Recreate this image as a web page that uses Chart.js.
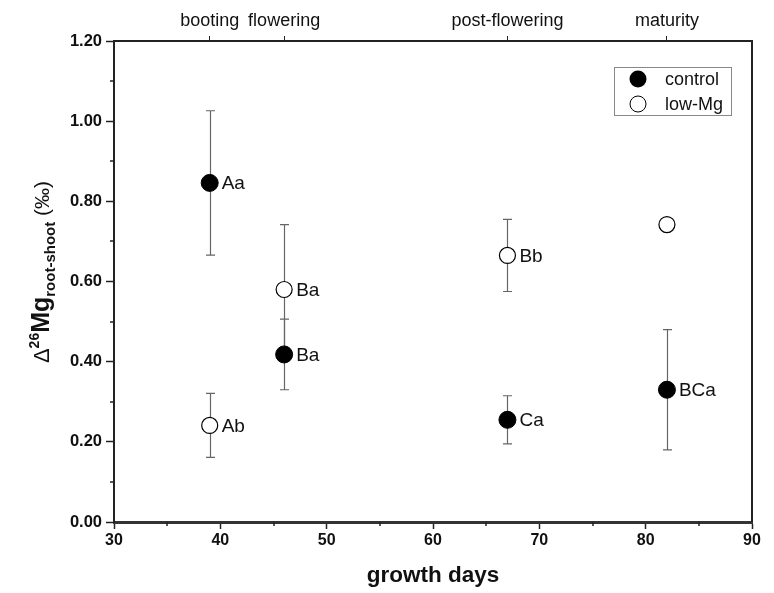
<!DOCTYPE html>
<html>
<head>
<meta charset="utf-8">
<script src="https://cdn.jsdelivr.net/npm/chart.js@4/dist/chart.umd.min.js"></script>
<style>
  body { margin: 0; background: #fff; }
</style>
</head>
<body>
<canvas id="chart" width="774" height="593"></canvas>
<script>
// growth days and stage names
const days = [39, 46, 67, 82]
const stages = ["booting", "flowering", "post-flowering", "maturity"]

// delta 26Mg root-shoot values (permil) and SD
const controlVals = [0.846, 0.418, 0.255, 0.330]
const controlErr = [0.18, 0.088, 0.06, 0.15]
const controlLabels = ["Aa", "Ba", "Ca", "BCa"]

const lowMgVals = [0.241, 0.580, 0.665, 0.742]
const lowMgErr = [0.08, 0.162, 0.09, 0]
const lowMgLabels = ["Ab", "Ba", "Bb", ""]

const yTicks = [0, 0.2, 0.4, 0.6, 0.8, 1.0, 1.2]
const xTicks = [30, 40, 50, 60, 70, 80, 90]

const FONT = "'Liberation Sans', Arial, sans-serif"

const extras = {
  id: "extras",
  beforeDatasetsDraw(chart) {
    const { ctx, chartArea: a, scales } = chart
    const x = scales.x, y = scales.y
    ctx.save()
    // right frame line
    ctx.strokeStyle = "#222"
    ctx.lineWidth = 2
    ctx.beginPath()
    ctx.moveTo(a.right, a.top)
    ctx.lineTo(a.right, a.bottom)
    ctx.stroke()
    // minor ticks
    ctx.lineWidth = 1.5
    for (let v = 0.1; v < 1.2; v += 0.2) {
      const py = Math.round(y.getPixelForValue(v))
      ctx.beginPath()
      ctx.moveTo(a.left - 4, py)
      ctx.lineTo(a.left, py)
      ctx.stroke()
    }
    for (let v = 35; v < 90; v += 10) {
      const px = Math.round(x.getPixelForValue(v))
      ctx.beginPath()
      ctx.moveTo(px, a.bottom)
      ctx.lineTo(px, a.bottom + 4)
      ctx.stroke()
    }
    // error bars
    ctx.strokeStyle = "#666"
    ctx.lineWidth = 1.2
    const bars = [[controlVals, controlErr], [lowMgVals, lowMgErr]]
    bars.forEach(([vals, errs]) => {
      vals.forEach((v, i) => {
        if (!errs[i]) return
        const px = Math.round(x.getPixelForValue(days[i])) + 0.5
        const top = y.getPixelForValue(v + errs[i])
        const bot = y.getPixelForValue(v - errs[i])
        ctx.beginPath()
        ctx.moveTo(px, top)
        ctx.lineTo(px, bot)
        ctx.moveTo(px - 4.5, top)
        ctx.lineTo(px + 4.5, top)
        ctx.moveTo(px - 4.5, bot)
        ctx.lineTo(px + 4.5, bot)
        ctx.stroke()
      })
    })
    ctx.restore()
  },
  afterDatasetsDraw(chart) {
    const { ctx, chartArea: a, scales } = chart
    const x = scales.x, y = scales.y
    ctx.save()
    // point letters
    ctx.fillStyle = "#111"
    ctx.font = "19px " + FONT
    ctx.textBaseline = "middle"
    const sets = [[controlVals, controlLabels], [lowMgVals, lowMgLabels]]
    sets.forEach(([vals, labs]) => {
      vals.forEach((v, i) => {
        if (!labs[i]) return
        ctx.fillText(labs[i], x.getPixelForValue(days[i]) + 12, y.getPixelForValue(v) + 1)
      })
    })

    // legend box
    ctx.strokeStyle = "#888"
    ctx.lineWidth = 1
    ctx.strokeRect(614.5, 67.5, 117, 48)
    ctx.fillStyle = "#000"
    ctx.beginPath()
    ctx.arc(638, 79, 8.5, 0, Math.PI * 2)
    ctx.fill()
    ctx.fillStyle = "#fff"
    ctx.strokeStyle = "#000"
    ctx.beginPath()
    ctx.arc(638, 104, 8, 0, Math.PI * 2)
    ctx.fill()
    ctx.stroke()
    ctx.fillStyle = "#111"
    ctx.font = "18px " + FONT
    ctx.fillText("control", 665, 80)
    ctx.fillText("low-Mg", 665, 105)

    // y axis title, rotated, with super/subscripts
    ctx.translate(41, 272)
    ctx.rotate(-Math.PI / 2)
    const parts = [
      { t: "\u0394", f: "22px " + FONT, dy: 0 },
      { t: "26", f: "bold 14px " + FONT, dy: -10 },
      { t: "Mg", f: "bold 25px " + FONT, dy: 0 },
      { t: "root-shoot", f: "bold 15px " + FONT, dy: 6 },
      { t: " (\u2030)", f: "21px " + FONT, dy: 0 }
    ]
    let total = 0
    parts.forEach(p => { ctx.font = p.f; p.w = ctx.measureText(p.t).width; total += p.w })
    let cx = -total / 2
    ctx.textBaseline = "alphabetic"
    parts.forEach(p => {
      ctx.font = p.f
      ctx.fillText(p.t, cx, 8 + p.dy)
      cx += p.w
    })
    ctx.restore()
  }
}

new Chart(document.getElementById("chart"), {
  type: "scatter",
  data: {
    datasets: [
      {
        label: "control",
        data: days.map((d, i) => ({ x: d, y: controlVals[i] })),
        pointRadius: 8.5,
        pointBackgroundColor: "#000",
        pointBorderColor: "#000",
        pointBorderWidth: 1
      },
      {
        label: "low-Mg",
        data: days.map((d, i) => ({ x: d, y: lowMgVals[i] })),
        pointRadius: 8,
        pointBackgroundColor: "#fff",
        pointBorderColor: "#000",
        pointBorderWidth: 1.2
      }
    ]
  },
  options: {
    responsive: false,
    animation: false,
    layout: { padding: { left: 0, right: 22, top: 0, bottom: 0 } },
    plugins: { legend: { display: false }, tooltip: { enabled: false } },
    scales: {
      x: {
        type: "linear",
        position: "bottom",
        min: 30,
        max: 90,
        afterBuildTicks: s => { s.ticks = xTicks.map(v => ({ value: v })) },
        afterFit: s => { s.height = 71 },
        grid: { drawOnChartArea: false, tickLength: 7, tickColor: "#222", tickWidth: 1.5 },
        border: { color: "#333", width: 3 },
        ticks: { color: "#111", font: { family: FONT, size: 16, weight: "bold" }, padding: 2, maxRotation: 0 },
        title: { display: true, text: "growth days", color: "#111", font: { family: FONT, size: 22.5, weight: "bold" }, padding: { top: 17 } }
      },
      x2: {
        type: "linear",
        position: "top",
        min: 30,
        max: 90,
        afterBuildTicks: s => { s.ticks = days.map(v => ({ value: v })) },
        afterFit: s => { s.height = 41 },
        grid: { drawOnChartArea: false, tickLength: 5, tickColor: "#222", tickWidth: 1 },
        border: { color: "#222", width: 2 },
        ticks: {
          autoSkip: false,
          maxRotation: 0,
          color: "#111",
          font: { family: FONT, size: 18 },
          padding: 4,
          callback: (v) => stages[days.indexOf(v)]
        }
      },
      y: {
        min: 0,
        max: 1.2,
        afterBuildTicks: s => { s.ticks = yTicks.map(v => ({ value: v })) },
        afterFit: s => { s.width = 114 },
        grid: { drawOnChartArea: false, tickLength: 8, tickColor: "#222", tickWidth: 1.5 },
        border: { color: "#222", width: 2 },
        ticks: {
          color: "#111",
          font: { family: FONT, size: 16.5, weight: "bold" },
          padding: 4,
          callback: v => v.toFixed(2)
        }
      }
    }
  },
  plugins: [extras]
})
</script>
</body>
</html>
